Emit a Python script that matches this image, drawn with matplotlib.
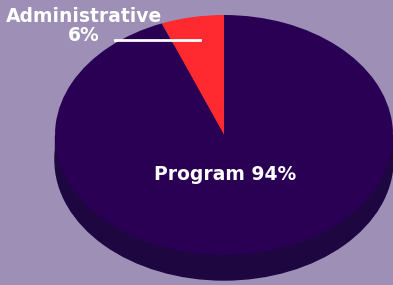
import matplotlib.pyplot as plt
from matplotlib.patches import Ellipse, Rectangle

labels = ['Administrative', 'Program']
values = [6, 94]
colors = ['#ff2a2f', '#2a0054']
side_color = '#1e0641'
bg = '#9e8fb6'

fig = plt.figure(figsize=(3.93, 2.85), dpi=100)
fig.patch.set_facecolor(bg)
ax = fig.add_axes([0, 0, 1, 1])
ax.set_facecolor(bg)

# pixel geometry of the squashed pie (radius 1 in data = 169px wide, 120px tall)
rx, ry = 169.0, 120.0
cx, cy = 224.0, 135.0
depth = 25.0 / ry

# 3d side
ax.add_patch(Ellipse((0, -depth), 2, 2, color=side_color, zorder=1))
ax.add_patch(Rectangle((-1, -depth), 2, depth, color=side_color, zorder=1))

wedges, _ = ax.pie(values, colors=colors, startangle=90, counterclock=True,
                   wedgeprops=dict(linewidth=0))
for w in wedges:
    w.set_zorder(2)

ax.set_aspect('auto')
ax.set_xlim(-cx / rx, (393 - cx) / rx)
ax.set_ylim(-(285 - cy) / ry, cy / ry)
ax.axis('off')

font = dict(family='DejaVu Sans', weight='semibold', color='white', fontsize=13.5)
ax.text((84 - cx) / rx, (cy - 26) / ry, f'{labels[0]}\n{values[0]}%', ha='center',
        va='center', linespacing=0.95, zorder=3, **font)
ax.plot([(115 - cx) / rx, (200 - cx) / rx], [(cy - 40) / ry] * 2, color='white',
        lw=2, zorder=3)
ax.text((225 - cx) / rx, (cy - 175) / ry, f'{labels[1]} {values[1]}%', ha='center',
        va='center', zorder=3, **font)

fig.savefig('out.png', dpi=100, facecolor=bg)
